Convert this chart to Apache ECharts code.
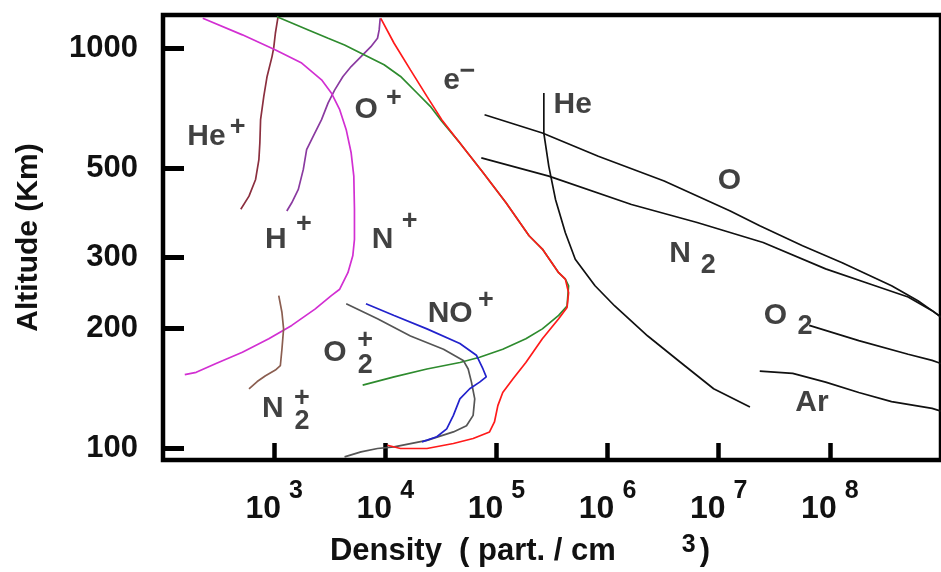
<!DOCTYPE html>
<html>
<head>
<meta charset="utf-8">
<script src="https://cdn.jsdelivr.net/npm/echarts@6/dist/echarts.min.js"></script>
<style>
  html, body { margin: 0; padding: 0; background: #ffffff; }
  #chart { width: 941px; height: 572px; }
</style>
</head>
<body>
<div id="chart"></div>
<script>
// Ionosphere / neutral atmosphere density profiles: [density (part./cm^3), altitude (km)]

const xTickValues = [1e3, 1e4, 1e5, 1e6, 1e7, 1e8];
const yTickValues = [100, 200, 300, 500, 1000];

// ions
const heIon = [[1080,1190],[1026,1090],[991,1002],[957,953],[864,850],[807,758],[755,663],[744,581],[729,527],[681,470],[594,427],[501,396]];
const hIon = [[9000,1188],[8810,1111],[8510,1059],[7420,1009],[6050,953],[4930,900],[4160,850],[3510,787],[3060,730],[2670,663],[2250,603],[1960,558],[1830,498],[1650,444],[1440,411],[1300,392]];
const nIon = [[228,1188],[518,1080],[1030,990],[1770,918],[2670,834],[3270,773],[3890,702],[4450,626],[4930,548],[5210,479],[5280,396],[5280,333],[5100,303],[4610,275],[3890,250],[3270,241],[2330,223],[1440,203],[895,188],[518,174],[300,163],[199,155],[157,153]];
const n2Ion = [[1100,241],[1175,219],[1216,199],[1175,177],[1137,161],[1026,157],[836,152],[704,147],[594,141]];
const oIon = [[1060,1199],[2030,1111],[3060,1059],[4300,1019],[6050,972],[9760,909],[13720,850],[19320,773],[25400,716],[32200,657],[46900,580],[75700,489],[122000,411],[196600,340],[259000,315],[363000,275],[417000,265],[446000,255],[432000,227],[363000,215],[259000,199],[184000,188],[114000,177],[70600,169],[46900,164],[23700,158],[12000,151],[6260,144]];
const noIon = [[6700,230],[12000,215],[23700,199],[46900,183],[66000,171],[75700,158],[81000,151],[70600,146.5],[57500,141],[46900,133],[41000,121],[35700,112],[29100,107],[21400,103.9]];
const o2Ion = [[4450,230],[8510,211],[16840,191],[33400,177],[50300,166],[55700,158],[59600,146.5],[63800,133],[61700,121],[53800,114],[41000,110],[23700,104.8],[12000,100.9],[8510,100],[6050,98.1],[4300,95.3]];
const electrons = [[9110,1188],[12000,1029],[16840,883],[23700,758],[32200,663],[46900,580],[75700,489],[122000,411],[196600,340],[259000,315],[363000,275],[417000,265],[446000,245],[432000,225],[363000,211],[259000,188],[184000,164],[140000,149],[114000,138],[103000,128],[96000,116.5],[86700,110],[61700,105.9],[41000,102.9],[23700,100],[13700,100],[10450,101.9]];

// neutrals
const heNeutral = [[2.67e5,773],[2.67e5,614],[2.96e5,507],[3.40e5,419],[4.17e5,346],[5.12e5,297],[7.71e5,255],[1.16e6,227],[2.30e6,191],[4.55e6,164],[9.0e6,141],[1.91e7,127]];
const oNeutral = [[7.82e4,682],[2.59e5,614],[8.25e5,537],[3.23e6,466],[1.27e7,392],[2.34e7,360],[5.68e7,321],[1.29e8,291],[3.59e8,255],[6.20e8,234],[8.32e8,221],[1.0e9,213]];
const n2Neutral = [[7.31e4,532],[2.96e5,479],[1.64e6,407],[6.39e6,367],[2.51e7,327],[9.16e7,281],[2.55e8,255],[5.06e8,239],[8.32e8,221],[1.0e9,213]];
const o2Neutral = [[6.52e7,203],[1.82e8,186],[5.06e8,172],[8.32e8,166],[1.0e9,163]];
const arNeutral = [[2.34e7,156],[4.63e7,154],[9.16e7,146.5],[1.82e8,138],[3.59e8,131],[8.32e8,126],[1.0e9,124]];

// species labels, placed in data space (superscripts / subscripts are separate pieces)
const labelTexts = ['He','+','O','+','e','\u2212','H','+','N','+','NO','+','O','+','2','N','+','2','He','O','N','2','O','2','Ar'];
const labelSpots = [[246,600],[469,632],[6726,702],[11940,750],[39560,831],[54880,875],[1033,333],[1851,362],[9433,333],[16560,368],[38360,217],[80170,234],[3528,173.4],[6590,186.2],[6590,160.9],[971,125.8],[1777,133.5],[1777,116.7],[486200,722.6],[1.249e7,466],[4.486e6,306.6],[8.04e6,287.1],[3.236e7,214.3],[5.98e7,201.8],[6.91e7,130.1]];
const labelIsScript = [0,1,0,1,0,1,0,1,0,1,0,1,0,1,1,0,1,1,0,0,0,1,0,1,0];

const FONT = '"Liberation Sans", Arial, Helvetica, sans-serif';
const INK = '#111111';

function profile(name, data, color) {
  return {
    name: name,
    type: 'line',
    data: data,
    showSymbol: false,
    symbol: 'none',
    smooth: false,
    lineStyle: { color: color, width: 1.7 },
    silent: true,
    z: 2
  };
}

const series = [
  profile('He+', heIon, '#8b2f3f'),
  profile('H+', hIon, '#8a3aa0'),
  profile('N+', nIon, '#d22fd2'),
  profile('N2+', n2Ion, '#8b5e50'),
  profile('O+', oIon, '#2e8b2e'),
  profile('O2+', o2Ion, '#555555'),
  profile('NO+', noIon, '#2222cc'),
  profile('e-', electrons, '#ff1a1a'),
  profile('He', heNeutral, INK),
  profile('O', oNeutral, INK),
  profile('N2', n2Neutral, INK),
  profile('O2', o2Neutral, INK),
  profile('Ar', arNeutral, INK),
  {
    name: 'labels',
    type: 'scatter',
    symbolSize: 1,
    itemStyle: { color: 'rgba(0,0,0,0)' },
    silent: true,
    z: 5,
    data: labelSpots.map((p, i) => ({
      value: p,
      label: {
        show: true,
        position: 'inside',
        formatter: labelTexts[i],
        fontFamily: FONT,
        fontWeight: 'bold',
        fontSize: labelIsScript[i] ? 27 : 30,
        color: INK,
        align: 'center',
        verticalAlign: 'middle'
      }
    }))
  }
];

const chart = echarts.init(document.getElementById('chart'), null, { renderer: 'canvas' });

chart.setOption({
  animation: false,
  backgroundColor: '#ffffff',
  grid: {
    left: 163,
    top: 15,
    width: 787,
    height: 446.5,
    show: true,
    borderColor: '#000000',
    borderWidth: 4.5,
    backgroundColor: 'rgba(0,0,0,0)'
  },
  xAxis: {
    type: 'log',
    logBase: 10,
    min: 100,
    max: 1e9,
    name: '{t|Density  ( part. / cm}{s|3}{t|)}',
    nameLocation: 'middle',
    nameGap: 76,
    nameTextStyle: {
      padding: [0, 64, 0, 0],
      rich: {
        t: { fontFamily: FONT, fontWeight: 'bold', fontSize: 31, color: INK, lineHeight: 31, verticalAlign: 'bottom' },
        s: { fontFamily: FONT, fontWeight: 'bold', fontSize: 25, color: INK, lineHeight: 25, verticalAlign: 'bottom', padding: [0, 4, 9, 66] }
      }
    },
    axisLine: { show: false },
    splitLine: { show: false },
    axisTick: {
      show: true,
      inside: true,
      length: 17,
      customValues: xTickValues,
      lineStyle: { color: '#000000', width: 4.5 }
    },
    axisLabel: {
      show: true,
      customValues: xTickValues,
      margin: 33,
      formatter: function (v) {
        return '{b|10}{s|' + Math.round(Math.log10(v)) + '}';
      },
      rich: {
        b: { fontFamily: FONT, fontWeight: 'bold', fontSize: 32, color: INK, lineHeight: 32, verticalAlign: 'bottom' },
        s: { fontFamily: FONT, fontWeight: 'bold', fontSize: 25, color: INK, lineHeight: 25, verticalAlign: 'bottom', padding: [0, 0, 21, 8] }
      }
    }
  },
  yAxis: {
    type: 'log',
    logBase: 10,
    min: 93.6,
    max: 1210.6,
    name: 'Altitude (Km)',
    nameLocation: 'middle',
    nameGap: 119,
    nameRotate: 90,
    nameTextStyle: { fontFamily: FONT, fontWeight: 'bold', fontSize: 30, color: INK },
    axisLine: { show: false },
    splitLine: { show: false },
    axisTick: {
      show: true,
      inside: true,
      length: 21,
      customValues: yTickValues,
      lineStyle: { color: '#000000', width: 5 }
    },
    axisLabel: {
      show: true,
      customValues: yTickValues,
      margin: 25,
      formatter: function (v) { return String(Math.round(v)); },
      fontFamily: FONT,
      fontWeight: 'bold',
      fontSize: 31,
      color: INK
    }
  },
  series: series
});
</script>
</body>
</html>
